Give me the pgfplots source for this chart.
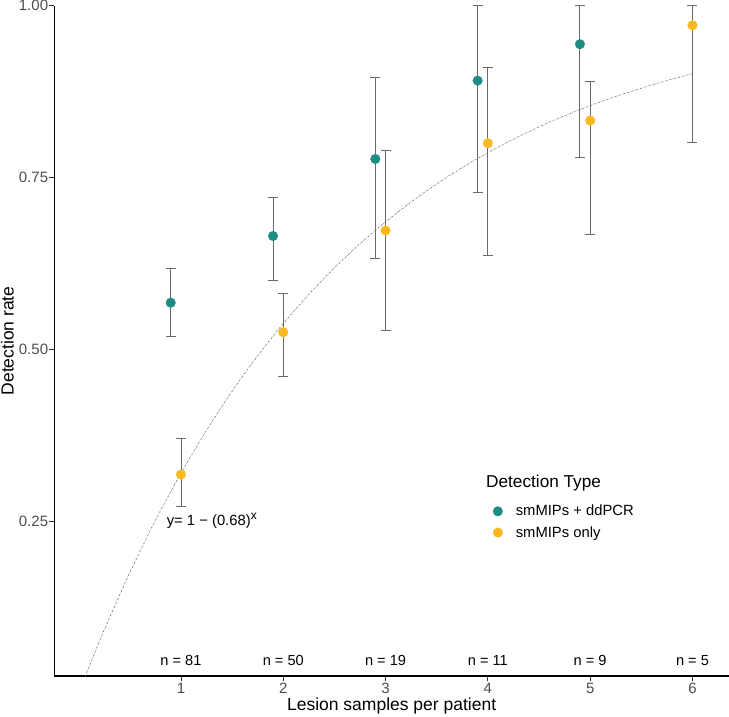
\documentclass[border=0pt]{standalone}
\usepackage{fontspec}
\setmainfont{Liberation Sans}
\usepackage{pgfplots}
\pgfplotsset{compat=1.18}
\definecolor{tealc}{HTML}{1E8C85}
\definecolor{yellc}{HTML}{F8B81E}
\definecolor{errc}{RGB}{105,105,105}
\definecolor{tickc}{HTML}{4D4D4D}
\definecolor{curvec}{RGB}{90,90,90}
\begin{document}
\begin{tikzpicture}
\useasboundingbox (0,0) rectangle (729pt,716pt);
\begin{axis}[
  at={(54.3pt,40pt)}, anchor=south west,
  scale only axis, width=674.7pt, height=670.3pt,
  xmin=-0.238, xmax=6.357, ymin=0.025, ymax=1.0,
  axis x line*=bottom, axis y line*=left,
  axis line style={black, line width=1.1pt},
  xtick={1,2,3,4,5,6}, ytick={0.25,0.5,0.75,1},
  yticklabels={0.25,0.50,0.75,1.00},
  tick align=outside, major tick length=5pt,
  tick style={color=black!80, line width=0.9pt},
  ticklabel style={font=\fontsize{15}{17}\selectfont, text=tickc},
  /pgf/number format/assume math mode=true,
  xticklabel style={inner sep=2pt},
  yticklabel style={inner sep=1pt},
  xlabel={Lesion samples per patient}, ylabel={Detection rate},
  every axis x label/.style={at={(axis description cs:0.5,-0.04476)}, anchor=center, font=\fontsize{17.5}{20}\selectfont},
  every axis y label/.style={at={(axis description cs:-0.0694,0.5)}, anchor=center, rotate=90, font=\fontsize{17.5}{20}\selectfont},
  legend style={at={(axis cs:4.048,0.2766)}, anchor=north west, draw=none, fill=none,
    font=\fontsize{14.8}{17}\selectfont, row sep=5pt, inner sep=0pt,
    /tikz/every odd column/.append style={column sep=11pt}},
  legend cell align=left,
]
% fitted curve y = 1 - 0.68^x (sampled)
\addplot[forget plot, curvec, line width=0.55pt, dash pattern=on 1.6pt off 1.2pt on 0.4pt off 1.2pt, smooth] table {
x y
0 0
0.05 0.0191
0.1 0.0378
0.15 0.0562
0.25 0.0919
0.5 0.1754
0.75 0.2512
1 0.3200
1.25 0.3825
1.5 0.4393
1.75 0.4908
2 0.5376
2.25 0.5801
2.5 0.6187
2.75 0.6537
3 0.6856
3.25 0.7145
3.5 0.7407
3.75 0.7645
4 0.7862
4.25 0.8058
4.5 0.8237
4.75 0.8399
5 0.8546
5.25 0.8680
5.5 0.8801
5.75 0.8911
6 0.9011
};
% points
\addplot[only marks, color=tealc, mark=*, mark size=4.9pt, mark options={fill=tealc, draw=tealc, line width=0.1pt}] coordinates {
(0.9,0.568) (1.9,0.665) (2.9,0.777) (3.9,0.891) (4.9,0.944)
};
\addlegendentry{smMIPs + ddPCR}
\addplot[only marks, color=yellc, mark=*, mark size=4.9pt, mark options={fill=yellc, draw=yellc, line width=0.1pt}] coordinates {
(1,0.318) (2,0.525) (3,0.673) (4,0.800) (5,0.833) (6,0.9715)
};
\addlegendentry{smMIPs only}
% error bars
\addplot[forget plot, draw=none, mark=none,
  error bars/.cd, y dir=both, y explicit,
  error bar style={errc, line width=0.9pt},
  error mark options={errc, line width=0.9pt, mark size=5pt, rotate=90}] coordinates {
(0.9,0.568) += (0,0.050) -= (0,0.0485)
(1.9,0.665) += (0,0.0557) -= (0,0.064)
(2.9,0.777) += (0,0.119) -= (0,0.144)
(3.9,0.891) += (0,0.109) -= (0,0.163)
(4.9,0.944) += (0,0.056) -= (0,0.165)
(1,0.318) += (0,0.053) -= (0,0.046)
(2,0.525) += (0,0.056) -= (0,0.064)
(3,0.673) += (0,0.117) -= (0,0.146)
(4,0.800) += (0,0.110) -= (0,0.163)
(5,0.833) += (0,0.057) -= (0,0.1655)
(6,0.9715) += (0,0.0285) -= (0,0.1705)
};
% annotations
\node[anchor=west, font=\fontsize{14.8}{16}\selectfont] at (axis cs:0.8275,0.2505) {y= 1 − (0.68)\raisebox{5.5pt}{\fontsize{12}{12}\selectfont x}};
\node[font=\fontsize{14.6}{16}\selectfont] at (axis cs:1,0.048) {n = 81};
\node[font=\fontsize{14.6}{16}\selectfont] at (axis cs:2,0.048) {n = 50};
\node[font=\fontsize{14.6}{16}\selectfont] at (axis cs:3,0.048) {n = 19};
\node[font=\fontsize{14.6}{16}\selectfont] at (axis cs:4,0.048) {n = 11};
\node[font=\fontsize{14.6}{16}\selectfont] at (axis cs:5,0.048) {n = 9};
\node[font=\fontsize{14.6}{16}\selectfont] at (axis cs:6,0.048) {n = 5};
\node[anchor=west, inner sep=0pt, font=\fontsize{17.2}{20}\selectfont] at (axis cs:3.982,0.3053) {Detection Type};
\end{axis}
\end{tikzpicture}
\end{document}
